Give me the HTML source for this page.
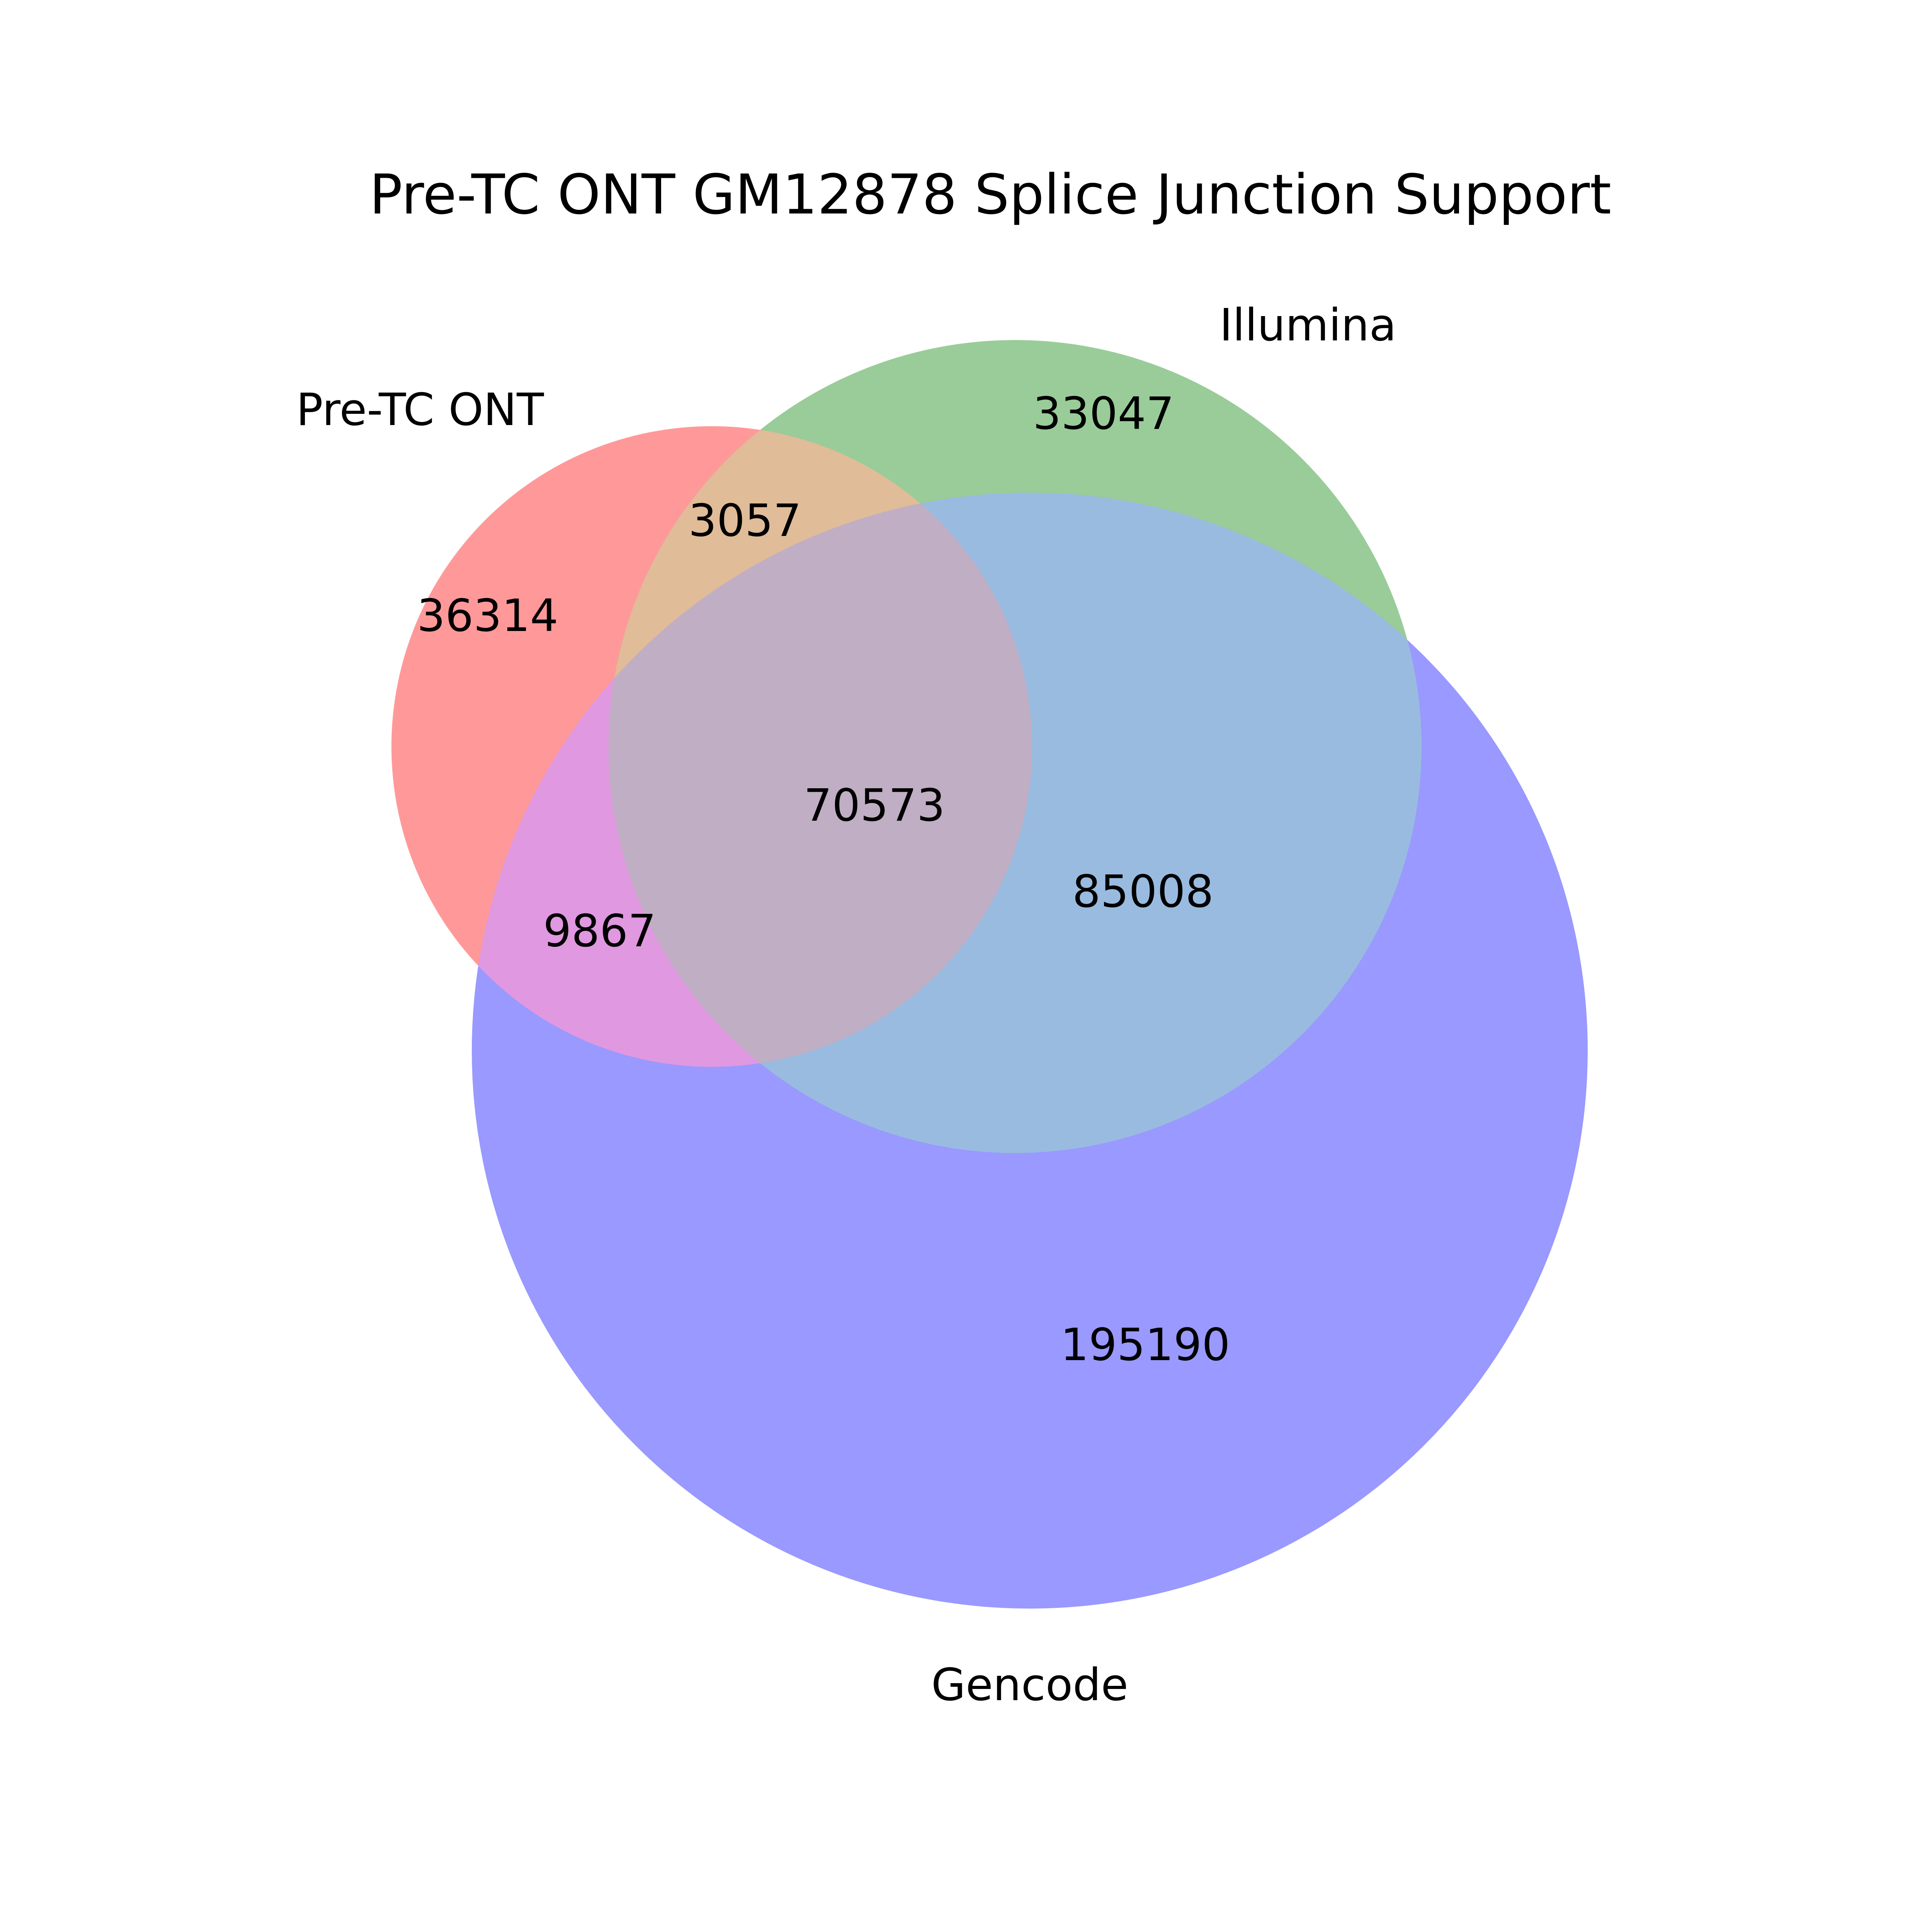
<!DOCTYPE html>
<html><head><meta charset="utf-8"><style>html,body{margin:0;padding:0;background:#fff;overflow:hidden;width:5100px;height:5100px}svg{display:block}</style></head>
<body>
<svg width="5100" height="5100" viewBox="0 0 5100 5100" xmlns="http://www.w3.org/2000/svg" font-family="DejaVu Sans, Liberation Sans, sans-serif">
<defs>
<clipPath id="cR"><circle cx="1842" cy="1932" r="829"/></clipPath>
<clipPath id="cG"><circle cx="2627" cy="1932" r="1052"/></clipPath>
<clipPath id="cB"><circle cx="2665" cy="2719" r="1444"/></clipPath>
</defs>
<rect width="5100" height="5100" fill="#fff"/>
<circle cx="1842" cy="1932" r="829" fill="#ff9999"/>
<circle cx="2627" cy="1932" r="1052" fill="#99cc99"/>
<circle cx="2665" cy="2719" r="1444" fill="#9999ff"/>
<g clip-path="url(#cG)"><circle cx="1842" cy="1932" r="829" fill="#e0bc98"/></g>
<g clip-path="url(#cB)"><circle cx="1842" cy="1932" r="829" fill="#e098e0"/></g>
<g clip-path="url(#cB)"><circle cx="2627" cy="1932" r="1052" fill="#99bbe0"/></g>
<g clip-path="url(#cB)"><g clip-path="url(#cG)"><circle cx="1842" cy="1932" r="829" fill="#c0aec4"/></g></g>
<g text-anchor="middle" dominant-baseline="central" fill="#000">
<text x="2563" y="504" font-size="142">Pre-TC ONT GM12878 Splice Junction Support</text>
<g font-size="115">
<text x="3385" y="842">Illumina</text>
<text x="1087" y="1061">Pre-TC ONT</text>
<text x="2665" y="4361">Gencode</text>
<text x="2856" y="1071">33047</text>
<text x="1928" y="1348">3057</text>
<text x="1262" y="1594">36314</text>
<text x="2263" y="2085">70573</text>
<text x="2958" y="2308">85008</text>
<text x="1552" y="2410">9867</text>
<text x="2964" y="3481">195190</text>
</g>
</g>
</svg>
</body></html>
